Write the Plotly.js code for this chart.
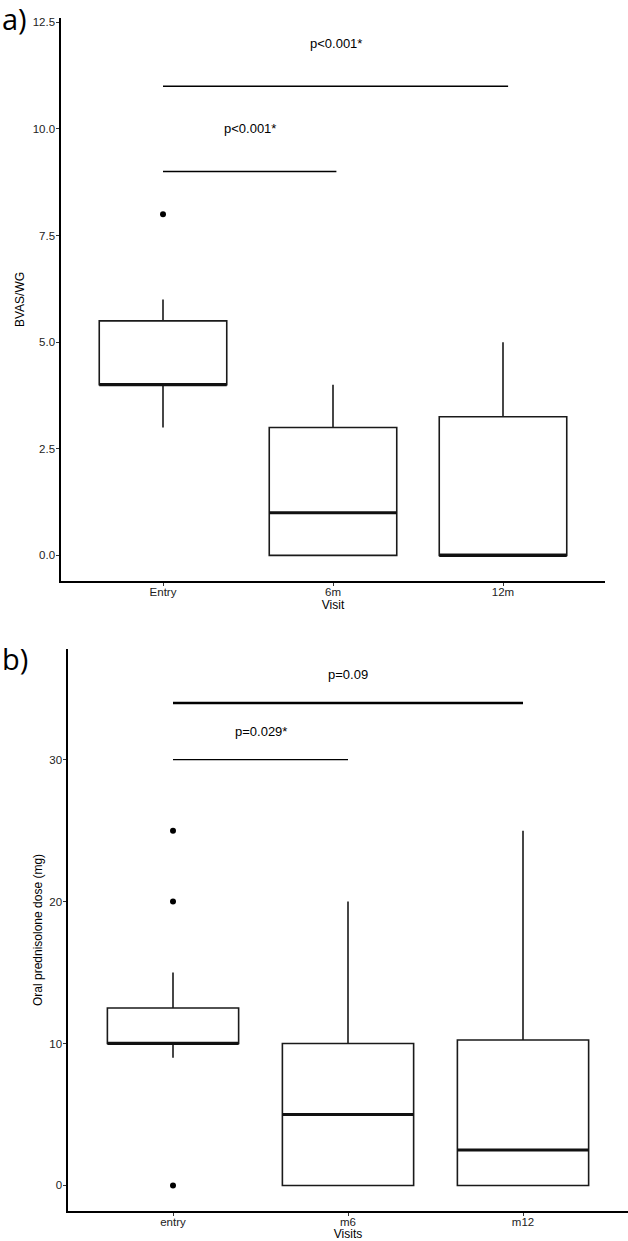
<!DOCTYPE html>
<html>
<head>
<meta charset="utf-8">
<script src="https://cdn.plot.ly/plotly-3.0.1.min.js"></script>
<style>html,body{margin:0;padding:0;background:#fff;}#chart{width:628px;height:1241px;}</style>
</head>
<body>
<div id="chart"></div>
<script>
// ---- Panel a) BVAS/WG ----
const visitsA = ['Entry', '6m', '12m'];
const bvasLower = [3, 0, 0];
const bvasQ1 = [4, 0, 0];
const bvasMedian = [4, 1, 0];
const bvasQ3 = [5.5, 3, 3.25];
const bvasUpper = [6, 4, 5];
const bvasOutlierVisit = ['Entry'];
const bvasOutlierValue = [8];
const bvasBracketFrom = ['Entry', 'Entry'];
const bvasBracketTo = [2.02, 3.03];
const bvasBracketY = [9, 11];
const bvasBracketLabel = ['p<0.001*', 'p<0.001*'];
const bvasLabelY = [10, 12];

// ---- Panel b) Oral prednisolone ----
const visitsB = ['entry', 'm6', 'm12'];
const predLower = [9, 0, 0];
const predQ1 = [10, 0, 0];
const predMedian = [10, 5, 2.5];
const predQ3 = [12.5, 10, 10.25];
const predUpper = [15, 20, 25];
const predOutlierVisit = ['entry', 'entry', 'entry'];
const predOutlierValue = [25, 20, 0];
const predBracketFrom = ['entry', 'entry'];
const predBracketTo = [2, 3];
const predBracketY = [30, 34];
const predBracketLabel = ['p=0.029*', 'p=0.09'];
const predLabelY = [32, 36];

const BOXW = 0.75;
const FONT = '"Liberation Sans"';
const pos = (cats, c) => typeof c === 'number' ? c : cats.indexOf(c) + 1;
const idx = cats => cats.map((c, i) => i + 1);

function panel(cats, lo, q1, med, q3, up, oX, oY, bFrom, bTo, bY, bLab, lY, xa, ya, bWidths) {
  const traces = [];
  traces.push({
    type: 'box', x: idx(cats), q1: q1, median: med, q3: q3,
    lowerfence: lo, upperfence: up, width: BOXW, whiskerwidth: 0,
    boxpoints: false, fillcolor: '#ffffff',
    line: {color: '#1a1a1a', width: 1.6},
    xaxis: xa, yaxis: ya, hoverinfo: 'skip'
  });
  const mx = [], my = [];
  med.forEach((m, i) => { mx.push(i + 1 - BOXW / 2, i + 1 + BOXW / 2, null); my.push(m, m, null); });
  traces.push({type: 'scatter', mode: 'lines', x: mx, y: my, line: {color: '#111', width: 3},
    xaxis: xa, yaxis: ya, hoverinfo: 'skip'});
  traces.push({type: 'scatter', mode: 'markers', x: oX.map(c => pos(cats, c)), y: oY,
    marker: {color: '#000', size: 6}, xaxis: xa, yaxis: ya, hoverinfo: 'skip'});
  const ann = [];
  bFrom.forEach((f, i) => {
    const x0 = pos(cats, f), x1 = pos(cats, bTo[i]);
    traces.push({type: 'scatter', mode: 'lines', x: [x0, x1], y: [bY[i], bY[i]],
      line: {color: '#000', width: bWidths[i]}, xaxis: xa, yaxis: ya, hoverinfo: 'skip'});
    ann.push({xref: xa, yref: ya, x: (x0 + x1) / 2, y: lY[i], text: bLab[i], showarrow: false,
      font: {family: FONT, size: 13, color: '#000'}});
  });
  return {traces, ann};
}

const A = panel(visitsA, bvasLower, bvasQ1, bvasMedian, bvasQ3, bvasUpper, bvasOutlierVisit, bvasOutlierValue,
  bvasBracketFrom, bvasBracketTo, bvasBracketY, bvasBracketLabel, bvasLabelY, 'x', 'y', [1.6, 1.6]);
const B = panel(visitsB, predLower, predQ1, predMedian, predQ3, predUpper, predOutlierVisit, predOutlierValue,
  predBracketFrom, predBracketTo, predBracketY, predBracketLabel, predLabelY, 'x2', 'y2', [1.3, 2.6]);

const W = 628, H = 1241;
const axCommon = {
  showline: true, linecolor: '#000', linewidth: 1.6, mirror: false,
  ticks: 'outside', ticklen: 3, tickwidth: 1, tickcolor: '#333',
  showgrid: false, zeroline: false, fixedrange: true,
  tickfont: {family: FONT, size: 11.5, color: '#222'}
};
const titleFont = {family: FONT, size: 12, color: '#000'};

const layout = {
  width: W, height: H, margin: {l: 0, r: 0, t: 0, b: 0},
  paper_bgcolor: '#fff', plot_bgcolor: '#fff', showlegend: false, boxmode: 'overlay',
  font: {family: FONT},
  xaxis: Object.assign({}, axCommon, {domain: [61 / W, 605 / W], range: [0.4, 3.6],
    tickvals: idx(visitsA), ticktext: visitsA, anchor: 'y', ticklabelstandoff: -3,
    title: {text: 'Visit', font: titleFont, standoff: 1}}),
  yaxis: Object.assign({}, axCommon, {domain: [1 - 581 / H, 1 - 18 / H], range: [-0.6, 12.6],
    tick0: 0, dtick: 2.5, tickformat: '.1f', anchor: 'x', ticklabelstandoff: -1,
    title: {text: 'BVAS/WG', font: titleFont, standoff: 5}}),
  xaxis2: Object.assign({}, axCommon, {domain: [68 / W, 1], range: [0.4, 3.6],
    tickvals: idx(visitsB), ticktext: visitsB, anchor: 'y2', ticklabelstandoff: -3,
    title: {text: 'Visits', font: titleFont, standoff: 1}}),
  yaxis2: Object.assign({}, axCommon, {domain: [1 - 1211 / H, 1 - 649 / H], range: [-1.8, 37.8],
    tick0: 0, dtick: 10, anchor: 'x2', ticklabelstandoff: -1,
    title: {text: 'Oral prednisolone dose (mg)', font: titleFont, standoff: 4}}),
  annotations: A.ann.concat(B.ann).concat([
    {xref: 'paper', yref: 'paper', x: 0, y: 1 - 19 / H, xanchor: 'left', yanchor: 'middle',
      text: 'a)', showarrow: false, font: {family: 'Open Sans', size: 29, color: '#000'}},
    {xref: 'paper', yref: 'paper', x: 0, y: 1 - 658 / H, xanchor: 'left', yanchor: 'middle',
      text: 'b)', showarrow: false, font: {family: 'Open Sans', size: 29, color: '#000'}}
  ])
};

Plotly.newPlot('chart', A.traces.concat(B.traces), layout, {staticPlot: true, displayModeBar: false});
</script>
</body>
</html>
